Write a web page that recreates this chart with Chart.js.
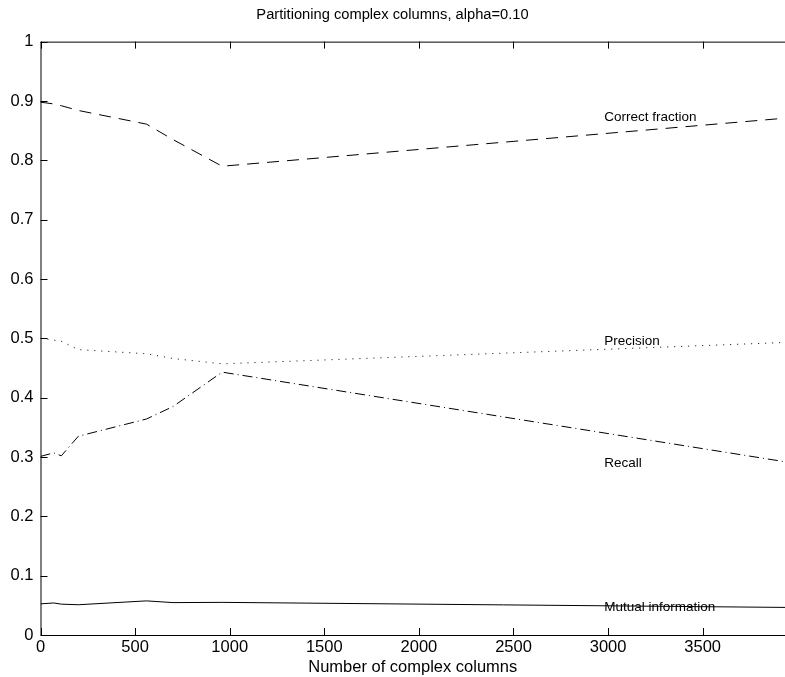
<!DOCTYPE html>
<html>
<head>
<meta charset="utf-8">
<script src="https://cdn.jsdelivr.net/npm/chart.js@4/dist/chart.umd.min.js"></script>
<style>
  html, body { margin: 0; padding: 0; background: #fff; }
  #wrap { width: 785px; height: 677px; }
</style>
</head>
<body>
<div id="wrap"><canvas id="myChart"></canvas></div>
<script>
// number of complex columns
const columns = [0, 70, 110, 200, 560, 700, 960, 3935];
const correctFraction = [0.898, 0.895, 0.892, 0.884, 0.861, 0.835, 0.790, 0.871];
const precision = [0.500, 0.497, 0.495, 0.481, 0.474, 0.466, 0.457, 0.493];
const recall = [0.301, 0.307, 0.302, 0.335, 0.364, 0.385, 0.443, 0.292];
const mutualInfo = [0.0525, 0.054, 0.052, 0.051, 0.0575, 0.0546, 0.055, 0.0465];

const xTicks = [0, 500, 1000, 1500, 2000, 2500, 3000, 3500];
const yTicks = [0, 0.1, 0.2, 0.3, 0.4, 0.5, 0.6, 0.7, 0.8, 0.9, 1];

// text labels placed next to the curves
const curveLabels = [
  { text: "Correct fraction", x: 2980, y: 0.8725 },
  { text: "Precision", x: 2980, y: 0.495 },
  { text: "Recall", x: 2980, y: 0.289 },
  { text: "Mutual information", x: 2980, y: 0.046 },
];

const FONT = "'Liberation Sans', Arial, sans-serif";

function pts(ys) {
  return columns.map((x, i) => ({ x: x, y: ys[i] }));
}

// axes box, inward ticks and curve labels
const frame = {
  id: "frame",
  afterDatasetsDraw(chart) {
    const { ctx, chartArea: a, scales } = chart;
    ctx.save();
    ctx.strokeStyle = "#000";
    ctx.lineWidth = 1;
    ctx.beginPath();
    ctx.moveTo(a.left + 0.5, a.top + 0.5);
    ctx.lineTo(a.right, a.top + 0.5);
    ctx.moveTo(a.left + 0.5, a.top);
    ctx.lineTo(a.left + 0.5, a.bottom + 0.5);
    ctx.lineTo(a.right, a.bottom + 0.5);
    xTicks.forEach((v) => {
      const px = Math.round(scales.x.getPixelForValue(v)) + 0.5;
      ctx.moveTo(px, a.bottom);
      ctx.lineTo(px, a.bottom - 7);
      ctx.moveTo(px, a.top);
      ctx.lineTo(px, a.top + 7);
    });
    yTicks.forEach((v) => {
      const py = Math.round(scales.y.getPixelForValue(v)) + 0.5;
      ctx.moveTo(a.left, py);
      ctx.lineTo(a.left + 7, py);
    });
    ctx.stroke();

    ctx.fillStyle = "#000";
    ctx.font = "13.5px " + FONT;
    ctx.textAlign = "left";
    ctx.textBaseline = "middle";
    curveLabels.forEach((l) => {
      ctx.fillText(l.text, scales.x.getPixelForValue(l.x), scales.y.getPixelForValue(l.y));
    });
    ctx.restore();
  },
};

const line = { borderColor: "#000", borderWidth: 1, pointRadius: 0, fill: false, tension: 0 };

new Chart("myChart", {
  type: "line",
  data: {
    datasets: [
      { ...line, label: "Correct fraction", data: pts(correctFraction), borderDash: [12, 8] },
      { ...line, label: "Precision", data: pts(precision), borderDash: [1, 6] },
      { ...line, label: "Recall", data: pts(recall), borderDash: [10, 4, 1, 4] },
      { ...line, label: "Mutual information", data: pts(mutualInfo) },
    ],
  },
  options: {
    responsive: true,
    maintainAspectRatio: false,
    animation: false,
    layout: { padding: { left: 0, right: 0, top: 0, bottom: 0 } },
    plugins: {
      legend: { display: false },
      tooltip: { enabled: false },
      title: {
        display: true,
        text: "Partitioning complex columns, alpha=0.10",
        color: "#000",
        font: { family: FONT, size: 14.7, weight: "normal" },
        padding: { top: 6, bottom: 18 },
      },
    },
    scales: {
      x: {
        type: "linear",
        min: 0,
        max: 3935,
        grid: { display: false, drawTicks: false },
        border: { display: false },
        ticks: {
          autoSkip: false,
          maxRotation: 0,
          padding: 3,
          color: "#000",
          font: { family: FONT, size: 16.5 },
          callback: (v) => String(v),
        },
        afterBuildTicks(scale) {
          scale.ticks = xTicks.map((v) => ({ value: v }));
        },
        title: {
          display: true,
          text: "Number of complex columns",
          color: "#000",
          font: { family: FONT, size: 16.5 },
          padding: { top: 0, bottom: 0 },
        },
        afterFit(scale) { scale.height = 42; },
      },
      y: {
        min: 0,
        max: 1,
        grid: { display: false, drawTicks: false },
        border: { display: false },
        ticks: {
          autoSkip: false,
          padding: 7,
          color: "#000",
          font: { family: FONT, size: 16.5 },
          callback: (v) => String(Math.round(v * 10) / 10),
        },
        afterBuildTicks(scale) {
          scale.ticks = yTicks.map((v) => ({ value: v }));
        },
        afterFit(scale) { scale.width = 40.5; },
      },
    },
  },
  plugins: [frame],
});
</script>
</body>
</html>
